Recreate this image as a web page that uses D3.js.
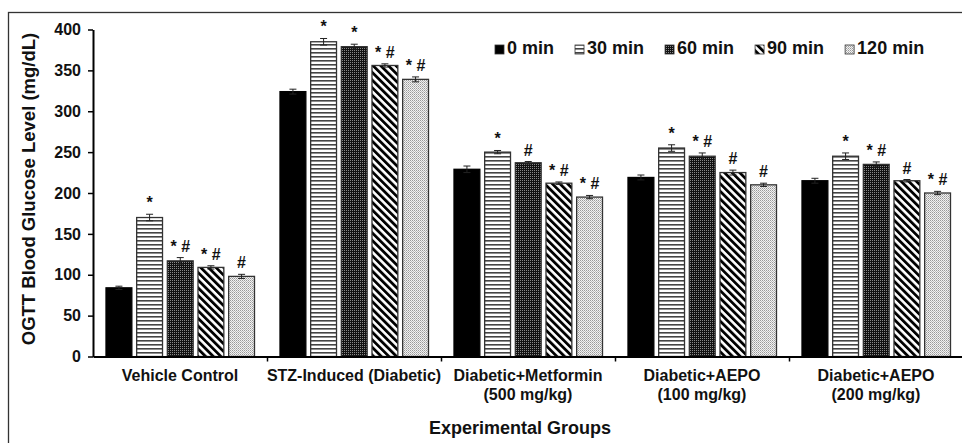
<!DOCTYPE html>
<html>
<head>
<meta charset="utf-8">
<script src="https://cdn.jsdelivr.net/npm/d3@7"></script>
<style>
  body { margin: 0; background: #fff; }
  text { font-family: "Liberation Sans", Arial, sans-serif; font-weight: bold; fill: #111; }
</style>
</head>
<body>
<script>
// groups (two-line labels), time points
const groups = ["Vehicle Control", "STZ-Induced (Diabetic)", "Diabetic+Metformin\n(500 mg/kg)", "Diabetic+AEPO\n(100 mg/kg)", "Diabetic+AEPO\n(200 mg/kg)"];
const times = ["0 min", "30 min", "60 min", "90 min", "120 min"];

// mean glucose per time point, one value per group
const t0 = [84, 324, 229, 219, 215];
const t30 = [170, 385, 250, 255, 245];
const t60 = [117, 379, 237, 245, 235];
const t90 = [109, 356, 212, 225, 215];
const t120 = [98, 339, 195, 210, 200];

// error (+/-) per time point
const e0 = [2, 3, 4, 3, 3];
const e30 = [4, 4, 2, 4, 4];
const e60 = [4, 3, 1.5, 4, 3];
const e90 = [2, 2, 1.5, 3, 1.5];
const e120 = [2.5, 3, 2, 2, 2];

// significance marks
const s0 = ["", "", "", "", ""];
const s30 = ["*", "*", "*", "*", "*"];
const s60 = ["* #", "*", "#", "* #", "* #"];
const s90 = ["* #", "* #", "* #", "#", "#"];
const s120 = ["#", "* #", "* #", "#", "* #"];

const yTicks = [0, 50, 100, 150, 200, 250, 300, 350, 400];

const vals = [t0, t30, t60, t90, t120];
const errs = [e0, e30, e60, e90, e120];
const sigs = [s0, s30, s60, s90, s120];

const W = 962, H = 443;
const svg = d3.select("body").append("svg")
  .attr("width", W)
  .attr("height", H);

// patterns for the time points
const defs = svg.append("defs");
function pat(id, w, h, tf) {
  const p = defs.append("pattern").attr("id", id)
    .attr("patternUnits", "userSpaceOnUse")
    .attr("width", w).attr("height", h);
  if (tf) p.attr("patternTransform", tf);
  return p;
}
// solid
pat("p0", 4, 4).append("rect").attr("width", 4).attr("height", 4).attr("fill", "#000");
// horizontal lines
let p = pat("p30", 4, 4);
p.append("rect").attr("width", 4).attr("height", 4).attr("fill", "#fff");
p.append("rect").attr("width", 4).attr("height", 1.6).attr("fill", "#444");
// dark dots
p = pat("p60", 2, 2);
p.append("rect").attr("width", 2).attr("height", 2).attr("fill", "#111");
p.append("rect").attr("width", 1).attr("height", 1).attr("fill", "#888");
// diagonal stripes
p = pat("p90", 5.4, 5.4, "rotate(-45)");
p.append("rect").attr("width", 5.4).attr("height", 5.4).attr("fill", "#fff");
p.append("rect").attr("width", 2.8).attr("height", 5.4).attr("fill", "#000");
// light dots
p = pat("p120", 2, 2);
p.append("rect").attr("width", 2).attr("height", 2).attr("fill", "#f2f2f2");
p.append("rect").attr("width", 1).attr("height", 1).attr("fill", "#999");
p.append("rect").attr("x", 1).attr("y", 1).attr("width", 1).attr("height", 1).attr("fill", "#bbb");
const fills = ["url(#p0)", "url(#p30)", "url(#p60)", "url(#p90)", "url(#p120)"];

// outer frame
svg.append("rect")
  .attr("x", 8.5).attr("y", 12.5)
  .attr("width", 1000).attr("height", 500)
  .attr("fill", "none").attr("stroke", "#333").attr("stroke-width", 1.3);

const x0 = d3.scaleBand().domain(groups).range([93, 963]).padding(0);
const x1 = d3.scaleBand().domain(times).range([13, x0.bandwidth() - 12.5]).paddingInner(0.157);
const y = d3.scaleLinear().domain([0, 400]).range([356.5, 29.5]);

// bars
const g = svg.append("g");
groups.forEach((grp, gi) => {
  times.forEach((t, ti) => {
    const v = vals[ti][gi], e = errs[ti][gi];
    const bx = x0(grp) + x1(t), bw = x1.bandwidth(), cx = bx + bw / 2;
    g.append("rect")
      .attr("x", bx).attr("y", y(v))
      .attr("width", bw).attr("height", y(0) - y(v))
      .attr("fill", fills[ti])
      .attr("stroke", ti == 0 ? "#000" : "#333")
      .attr("stroke-width", 1.3);
    // error bar
    g.append("line").attr("x1", cx).attr("x2", cx)
      .attr("y1", y(v - e)).attr("y2", y(v + e))
      .attr("stroke", "#222").attr("stroke-width", 1);
    [v - e, v + e].forEach(ev => {
      g.append("line").attr("x1", cx - 3.5).attr("x2", cx + 3.5)
        .attr("y1", y(ev)).attr("y2", y(ev))
        .attr("stroke", "#222").attr("stroke-width", 1);
    });
    const s = sigs[ti][gi];
    if (s) {
      g.append("text")
        .attr("x", cx).attr("y", y(v + e) - 6)
        .attr("text-anchor", "middle")
        .style("font-size", "16px")
        .text(s);
    }
  });
});

// y axis
const yAxis = svg.append("g")
  .attr("transform", "translate(93,0)")
  .call(d3.axisLeft(y).tickValues(yTicks).tickSize(5).tickSizeOuter(0).tickPadding(7));
yAxis.select(".domain").attr("stroke", "#000").attr("stroke-width", 2);
yAxis.selectAll(".tick line").attr("stroke", "#000").attr("stroke-width", 1.5);
yAxis.selectAll(".tick text")
  .style("font-size", "16px").style("font-family", "'Liberation Sans', Arial, sans-serif")
  .style("font-weight", "bold").attr("fill", "#111");

// x axis line with ticks at group boundaries
const xb = d3.scaleLinear().domain([0, groups.length]).range([93, 963]);
const xAxis = svg.append("g")
  .attr("transform", "translate(0," + y(0) + ")")
  .call(d3.axisBottom(xb).tickValues(d3.range(1, groups.length + 1)).tickSize(5).tickSizeOuter(0).tickFormat(""));
xAxis.select(".domain").attr("stroke", "#000").attr("stroke-width", 2);
xAxis.selectAll(".tick line").attr("stroke", "#000").attr("stroke-width", 1.5);

// group labels
groups.forEach(grp => {
  const lines = grp.split("\n");
  const t = svg.append("text")
    .attr("text-anchor", "middle")
    .attr("x", x0(grp) + x0.bandwidth() / 2)
    .attr("y", 381)
    .style("font-size", "16px");
  lines.forEach((ln, i) => {
    t.append("tspan")
      .attr("x", x0(grp) + x0.bandwidth() / 2)
      .attr("dy", i == 0 ? 0 : 19)
      .text(ln);
  });
});

// axis titles
svg.append("text")
  .attr("text-anchor", "middle")
  .attr("x", 520).attr("y", 434)
  .style("font-size", "18px")
  .text("Experimental Groups");
svg.append("text")
  .attr("text-anchor", "middle")
  .attr("transform", "translate(35,189) rotate(-90)")
  .style("font-size", "18.5px")
  .text("OGTT Blood Glucose Level (mg/dL)");

// legend
const leg = svg.append("g");
let lx = 495;
times.forEach((t, i) => {
  leg.append("rect")
    .attr("x", lx).attr("y", 45)
    .attr("width", 9).attr("height", 9)
    .attr("fill", fills[i]).attr("stroke", "#333").attr("stroke-width", 0.8);
  const tx = leg.append("text")
    .attr("x", lx + 12).attr("y", 54)
    .style("font-size", "18px")
    .text(t);
  lx += 12 + tx.node().getComputedTextLength() + 21;
});
</script>
</body>
</html>
